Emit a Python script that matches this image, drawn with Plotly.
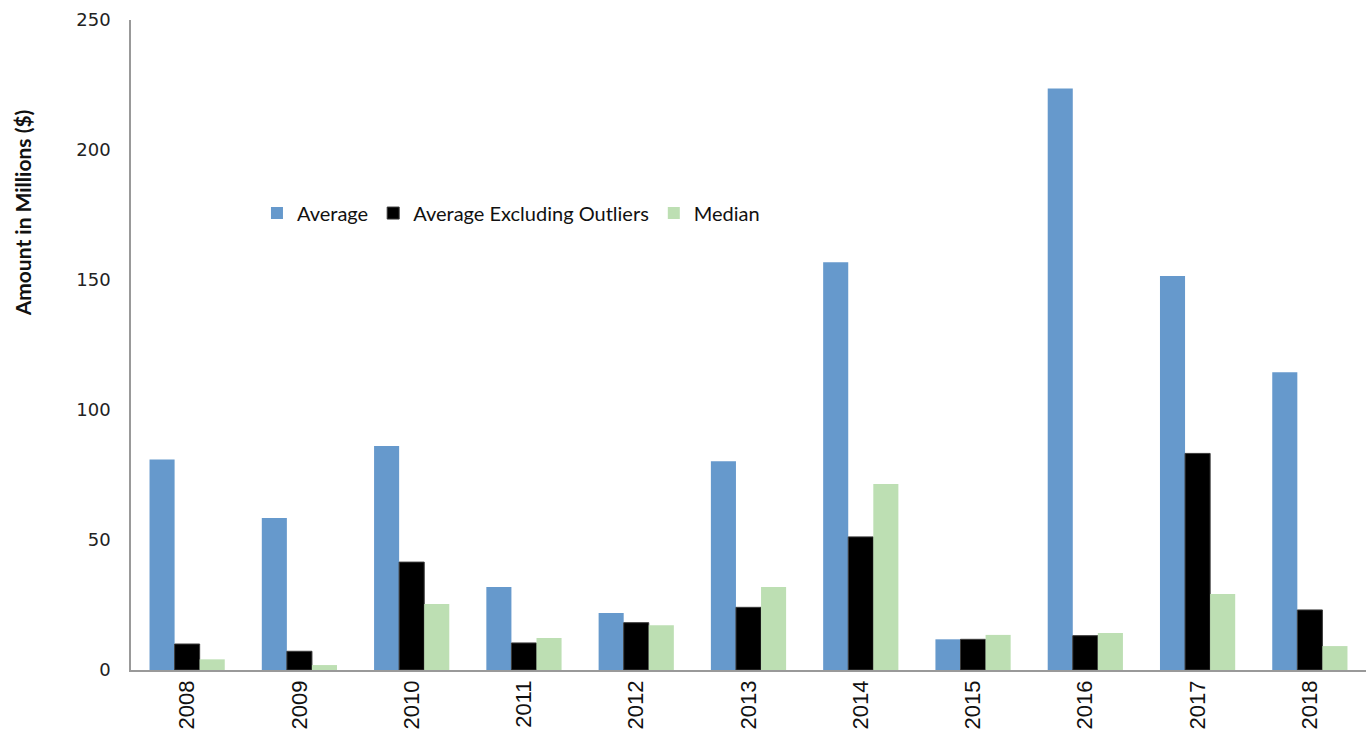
import plotly.graph_objects as go

years = ["2008", "2009", "2010", "2011", "2012", "2013", "2014", "2015", "2016", "2017", "2018"]
average = [81.0, 58.5, 86.2, 31.9, 21.9, 80.3, 156.8, 11.8, 223.7, 151.5, 114.5]
average_excl_outliers = [10.0, 7.2, 41.5, 10.4, 18.2, 24.1, 51.2, 11.8, 13.2, 83.3, 23.1]
median = [4.1, 1.9, 25.4, 12.3, 17.2, 31.9, 71.5, 13.5, 14.2, 29.2, 9.2]

fig = go.Figure()
fig.add_trace(go.Bar(x=years, y=average, name="Average",
                     marker=dict(color="#6699CC", line=dict(width=0))))
fig.add_trace(go.Bar(x=years, y=average_excl_outliers, name="Average Excluding Outliers",
                     marker=dict(color="#000000", line=dict(color="#3a3a3a", width=1))))
fig.add_trace(go.Bar(x=years, y=median, name="Median",
                     marker=dict(color="#BDDFB3", line=dict(width=0))))

fig.update_layout(
    width=1366, height=741,
    margin=dict(l=131, r=0, t=20, b=71),
    paper_bgcolor="white", plot_bgcolor="white",
    barmode="group", bargap=0.33, bargroupgap=0,
    showlegend=True,
    legend=dict(orientation="h", x=0.102, y=0.703, xanchor="left", yanchor="middle",
                font=dict(family="Lato", size=20, color="#111111"),
                bgcolor="rgba(0,0,0,0)", itemwidth=30, traceorder="normal"),
    xaxis=dict(
        type="category", showgrid=False, zeroline=False,
        showline=True, linecolor="#999999", linewidth=1.5,
        ticks="", tickangle=-90,
        tickfont=dict(family="Liberation Sans", size=22, color="#111111"),
    ),
    yaxis=dict(
        range=[0, 250], tickvals=[0, 50, 100, 150, 200, 250],
        showgrid=False, zeroline=False,
        showline=True, linecolor="#999999", linewidth=1.5,
        ticks="", ticklabelstandoff=15,
        tickfont=dict(family="DejaVu Sans", size=18, color="#222222"),
    ),
    annotations=[dict(
        text="<b>Amount in Millions ($)</b>", textangle=-90,
        xref="paper", yref="paper", x=-0.088, y=0.703,
        xanchor="center", yanchor="middle", showarrow=False,
        font=dict(family="Lato", size=21, color="#111111"),
    )],
)

fig.write_html("out.html")
